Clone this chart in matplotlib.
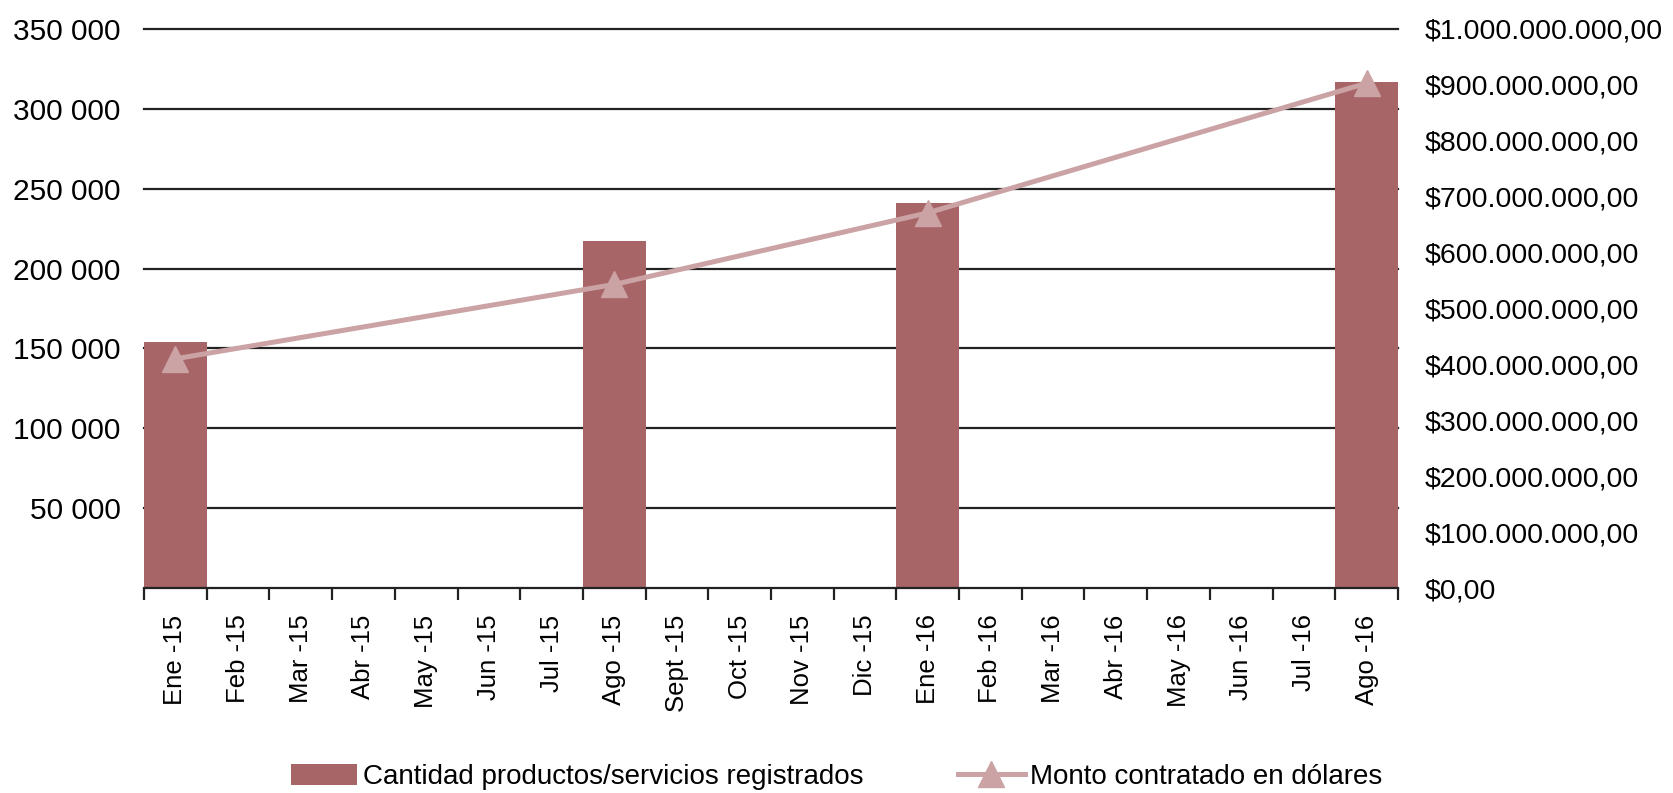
import matplotlib
matplotlib.use("Agg")
import matplotlib.pyplot as plt
from matplotlib.ticker import FuncFormatter, FixedLocator
import numpy as np

plt.rcParams['font.family'] = ['Liberation Sans', 'DejaVu Sans']

months = ["Ene -15", "Feb -15", "Mar -15", "Abr -15", "May -15", "Jun -15",
          "Jul -15", "Ago -15", "Sept -15", "Oct -15", "Nov -15", "Dic -15",
          "Ene -16", "Feb -16", "Mar -16", "Abr -16", "May -16", "Jun -16",
          "Jul -16", "Ago -16"]
# registered products/services (only four months reported)
cantidad = [154000, 0, 0, 0, 0, 0, 0, 217500, 0, 0, 0, 0,
            241000, 0, 0, 0, 0, 0, 0, 316500]
# contracted amount in dollars
monto_idx = [0, 7, 12, 19]
monto = [410e6, 543e6, 671e6, 903e6]

bar_color = "#A86567"
line_color = "#CBA3A5"

fig = plt.figure(figsize=(16.73, 7.93), dpi=100)
ax = fig.add_axes([0.0861, 0.2585, 0.7495, 0.705])
x = np.arange(len(months))

ax.bar(x, cantidad, width=1.0, color=bar_color, label="Cantidad productos/servicios registrados", zorder=2)
ax.set_xlim(-0.5, len(months) - 0.5)
ax.set_ylim(0, 350000)
ax.set_yticks(np.arange(50000, 350001, 50000))
ax.yaxis.set_major_formatter(FuncFormatter(lambda v, p: f"{int(v):,}".replace(",", " ")))
ax.yaxis.grid(True, color="#222222", linewidth=1.6)
for g in ax.get_ygridlines():
    g.set_clip_on(False)
ax.set_axisbelow(True)
ax.tick_params(axis="y", length=0, pad=17, labelsize=21.5)

ax.set_xticks(x)
ax.set_xticklabels(months, rotation=90)
ax.xaxis.set_minor_locator(FixedLocator(np.arange(-0.5, len(months), 1.0)))
ax.tick_params(axis="x", which="major", length=0, pad=19, labelsize=18.5)
ax.tick_params(axis="x", which="minor", length=8.6, width=1.6, color="#222222")

for s in ["left", "right", "top"]:
    ax.spines[s].set_visible(False)
ax.spines["bottom"].set_linewidth(1.6)
ax.spines["bottom"].set_color("#222222")

ax2 = ax.twinx()
ax2.plot(monto_idx, monto, color=line_color, linewidth=3.6, marker="^", markersize=19,
         label="Monto contratado en dólares", zorder=3)
ax2.set_ylim(0, 1e9)
ax2.set_yticks(np.arange(0, 1e9 + 1, 1e8))
ax2.yaxis.set_major_formatter(FuncFormatter(
    lambda v, p: "$" + f"{int(v):,}".replace(",", ".") + ",00"))
ax2.tick_params(axis="y", length=0, pad=19, labelsize=20.5)
for s in ax2.spines.values():
    s.set_visible(False)

h1, l1 = ax.get_legend_handles_labels()
h2, l2 = ax2.get_legend_handles_labels()
fig.legend(h1 + h2, l1 + l2, loc="center", bbox_to_anchor=(0.5, 0.02), ncol=2,
           frameon=False, fontsize=20, columnspacing=3.4, handlelength=2.4,
           handletextpad=0.2, handleheight=0.8)

fig.savefig("out.png", dpi=100)
